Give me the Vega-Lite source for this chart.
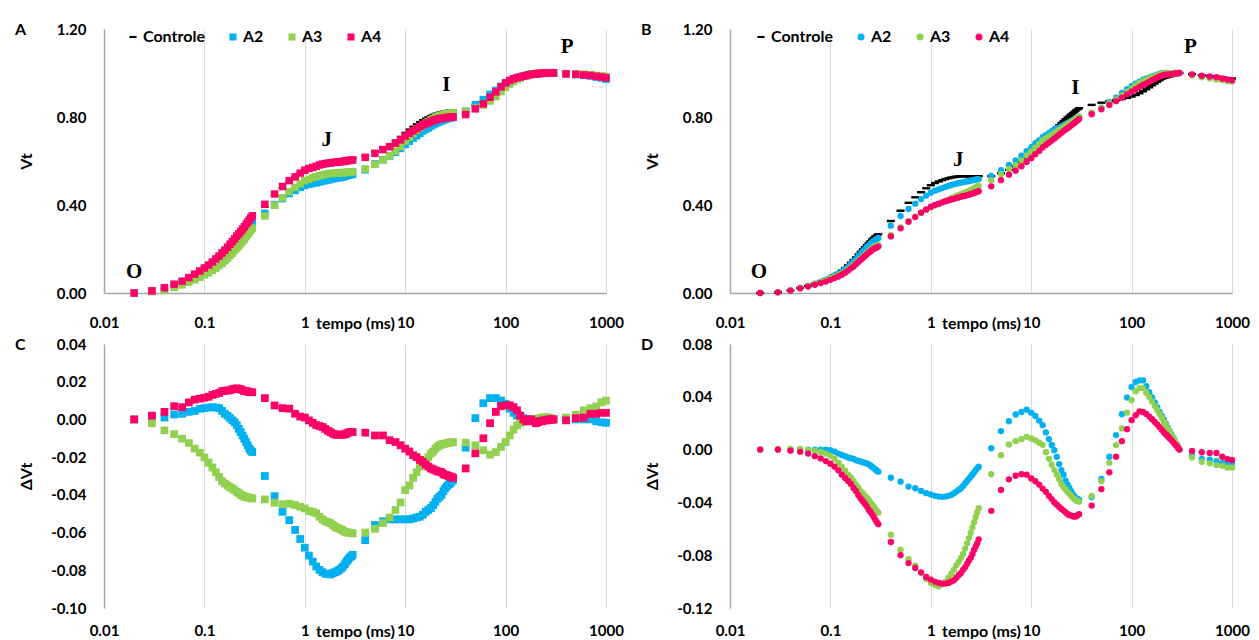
{
"$schema":"https://vega.github.io/schema/vega-lite/v6.json",
"background":"white",
"padding":{"left":15,"top":22,"right":5,"bottom":0},
"config":{
"font":"Lato",
"view":{"stroke":null},
"axis":{"labelFont":"Lato","labelFontSize":15,"labelFontWeight":"bold","labelColor":"#000","labelOverlap":false,"titleFont":"Lato","titleFontSize":16,"titleFontWeight":"bold","titleColor":"#000","ticks":false,"grid":false,"domainColor":"#A6A6A6","domainWidth":1.5,"gridColor":"#D9D9D9","gridWidth":1},
"legend":{"labelFont":"Lato","labelFontSize":16,"labelFontWeight":"bold","labelColor":"#000"},
"title":{"font":"Lato","fontSize":16,"fontWeight":"bold","color":"#000"},
"locale":{"number":{"decimal":".","thousands":",","grouping":[3],"currency":["",""],"minus":"-"}}
},
"datasets":{
"ann":[{"p":"A","t":0.02,"v":0.097,"lab":"O"},{"p":"A","t":1.65,"v":0.695,"lab":"J"},{"p":"A","t":25.7,"v":0.945,"lab":"I"},{"p":"A","t":410,"v":1.117,"lab":"P"},{"p":"B","t":0.0194,"v":0.097,"lab":"O"},{"p":"B","t":1.875,"v":0.604,"lab":"J"},{"p":"B","t":27.5,"v":0.93,"lab":"I"},{"p":"B","t":385,"v":1.117,"lab":"P"}],
"A":[
{"t":0.02,"c":0,"a2":0,"a3":0,"a4":0},
{"t":0.03,"c":0.008,"a2":0.009,"a3":0.006,"a4":0.01},
{"t":0.04,"c":0.02,"a2":0.021,"a3":0.014,"a4":0.024},
{"t":0.05,"c":0.033,"a2":0.036,"a3":0.025,"a4":0.04},
{"t":0.06,"c":0.047,"a2":0.05,"a3":0.037,"a4":0.054},
{"t":0.07,"c":0.061,"a2":0.065,"a3":0.049,"a4":0.07},
{"t":0.08,"c":0.075,"a2":0.08,"a3":0.06,"a4":0.086},
{"t":0.09,"c":0.089,"a2":0.095,"a3":0.071,"a4":0.1},
{"t":0.1,"c":0.102,"a2":0.108,"a3":0.082,"a4":0.114},
{"t":0.11,"c":0.115,"a2":0.121,"a3":0.092,"a4":0.127},
{"t":0.12,"c":0.128,"a2":0.135,"a3":0.103,"a4":0.141},
{"t":0.13,"c":0.141,"a2":0.147,"a3":0.113,"a4":0.155},
{"t":0.14,"c":0.154,"a2":0.16,"a3":0.124,"a4":0.168},
{"t":0.15,"c":0.167,"a2":0.172,"a3":0.134,"a4":0.182},
{"t":0.16,"c":0.18,"a2":0.183,"a3":0.146,"a4":0.195},
{"t":0.17,"c":0.193,"a2":0.195,"a3":0.158,"a4":0.208},
{"t":0.18,"c":0.206,"a2":0.207,"a3":0.17,"a4":0.222},
{"t":0.19,"c":0.218,"a2":0.218,"a3":0.181,"a4":0.234},
{"t":0.2,"c":0.23,"a2":0.229,"a3":0.193,"a4":0.246},
{"t":0.21,"c":0.242,"a2":0.239,"a3":0.204,"a4":0.259},
{"t":0.22,"c":0.253,"a2":0.248,"a3":0.214,"a4":0.269},
{"t":0.23,"c":0.264,"a2":0.257,"a3":0.224,"a4":0.28},
{"t":0.24,"c":0.275,"a2":0.267,"a3":0.235,"a4":0.291},
{"t":0.25,"c":0.286,"a2":0.276,"a3":0.245,"a4":0.301},
{"t":0.26,"c":0.297,"a2":0.285,"a3":0.256,"a4":0.312},
{"t":0.27,"c":0.307,"a2":0.293,"a3":0.266,"a4":0.322},
{"t":0.28,"c":0.317,"a2":0.302,"a3":0.275,"a4":0.332},
{"t":0.29,"c":0.327,"a2":0.311,"a3":0.285,"a4":0.342},
{"t":0.3,"c":0.337,"a2":0.32,"a3":0.295,"a4":0.351},
{"t":0.4,"c":0.392,"a2":0.362,"a3":0.35,"a4":0.403},
{"t":0.5,"c":0.443,"a2":0.402,"a3":0.399,"a4":0.45},
{"t":0.6,"c":0.478,"a2":0.429,"a3":0.433,"a4":0.484},
{"t":0.7,"c":0.505,"a2":0.452,"a3":0.46,"a4":0.511},
{"t":0.8,"c":0.525,"a2":0.466,"a3":0.48,"a4":0.528},
{"t":0.9,"c":0.543,"a2":0.48,"a3":0.497,"a4":0.545},
{"t":1,"c":0.557,"a2":0.489,"a3":0.51,"a4":0.558},
{"t":1.1,"c":0.566,"a2":0.494,"a3":0.517,"a4":0.566},
{"t":1.2,"c":0.573,"a2":0.498,"a3":0.524,"a4":0.571},
{"t":1.3,"c":0.579,"a2":0.501,"a3":0.529,"a4":0.576},
{"t":1.4,"c":0.585,"a2":0.505,"a3":0.533,"a4":0.582},
{"t":1.5,"c":0.59,"a2":0.509,"a3":0.537,"a4":0.586},
{"t":1.6,"c":0.593,"a2":0.511,"a3":0.539,"a4":0.588},
{"t":1.7,"c":0.596,"a2":0.514,"a3":0.542,"a4":0.59},
{"t":1.8,"c":0.598,"a2":0.516,"a3":0.543,"a4":0.591},
{"t":1.9,"c":0.6,"a2":0.519,"a3":0.544,"a4":0.593},
{"t":2,"c":0.602,"a2":0.521,"a3":0.545,"a4":0.594},
{"t":2.1,"c":0.603,"a2":0.523,"a3":0.546,"a4":0.595},
{"t":2.2,"c":0.604,"a2":0.524,"a3":0.546,"a4":0.596},
{"t":2.3,"c":0.605,"a2":0.526,"a3":0.547,"a4":0.597},
{"t":2.4,"c":0.606,"a2":0.528,"a3":0.547,"a4":0.598},
{"t":2.5,"c":0.607,"a2":0.53,"a3":0.548,"a4":0.599},
{"t":2.6,"c":0.608,"a2":0.533,"a3":0.548,"a4":0.601},
{"t":2.7,"c":0.609,"a2":0.535,"a3":0.549,"a4":0.602},
{"t":2.8,"c":0.61,"a2":0.537,"a3":0.55,"a4":0.603},
{"t":2.9,"c":0.611,"a2":0.539,"a3":0.551,"a4":0.604},
{"t":3,"c":0.612,"a2":0.54,"a3":0.552,"a4":0.605},
{"t":4,"c":0.624,"a2":0.56,"a3":0.564,"a4":0.617},
{"t":5,"c":0.643,"a2":0.587,"a3":0.585,"a4":0.635},
{"t":6,"c":0.66,"a2":0.606,"a3":0.605,"a4":0.652},
{"t":7,"c":0.676,"a2":0.623,"a3":0.624,"a4":0.665},
{"t":8,"c":0.693,"a2":0.64,"a3":0.645,"a4":0.681},
{"t":9,"c":0.71,"a2":0.657,"a3":0.666,"a4":0.696},
{"t":10,"c":0.728,"a2":0.675,"a3":0.691,"a4":0.713},
{"t":11,"c":0.743,"a2":0.69,"a3":0.708,"a4":0.726},
{"t":12,"c":0.756,"a2":0.704,"a3":0.725,"a4":0.737},
{"t":13,"c":0.767,"a2":0.715,"a3":0.739,"a4":0.747},
{"t":14,"c":0.777,"a2":0.725,"a3":0.752,"a4":0.756},
{"t":15,"c":0.786,"a2":0.736,"a3":0.763,"a4":0.764},
{"t":16,"c":0.793,"a2":0.744,"a3":0.772,"a4":0.769},
{"t":17,"c":0.799,"a2":0.751,"a3":0.779,"a4":0.774},
{"t":18,"c":0.805,"a2":0.758,"a3":0.787,"a4":0.779},
{"t":19,"c":0.81,"a2":0.765,"a3":0.793,"a4":0.784},
{"t":20,"c":0.814,"a2":0.77,"a3":0.799,"a4":0.787},
{"t":21,"c":0.817,"a2":0.775,"a3":0.803,"a4":0.79},
{"t":22,"c":0.82,"a2":0.779,"a3":0.806,"a4":0.792},
{"t":23,"c":0.822,"a2":0.782,"a3":0.809,"a4":0.794},
{"t":24,"c":0.824,"a2":0.786,"a3":0.811,"a4":0.795},
{"t":25,"c":0.826,"a2":0.789,"a3":0.813,"a4":0.797},
{"t":26,"c":0.827,"a2":0.792,"a3":0.814,"a4":0.797},
{"t":27,"c":0.828,"a2":0.794,"a3":0.816,"a4":0.798},
{"t":28,"c":0.829,"a2":0.795,"a3":0.817,"a4":0.799},
{"t":29,"c":0.83,"a2":0.797,"a3":0.818,"a4":0.8},
{"t":30,"c":0.831,"a2":0.799,"a3":0.819,"a4":0.8},
{"t":40,"c":0.837,"a2":0.822,"a3":0.825,"a4":0.811},
{"t":50,"c":0.855,"a2":0.856,"a3":0.841,"a4":0.837},
{"t":60,"c":0.87,"a2":0.879,"a3":0.854,"a4":0.86},
{"t":70,"c":0.892,"a2":0.903,"a3":0.873,"a4":0.89},
{"t":80,"c":0.91,"a2":0.921,"a3":0.893,"a4":0.914},
{"t":90,"c":0.93,"a2":0.94,"a3":0.915,"a4":0.937},
{"t":100,"c":0.947,"a2":0.955,"a3":0.935,"a4":0.955},
{"t":110,"c":0.958,"a2":0.964,"a3":0.95,"a4":0.966},
{"t":120,"c":0.967,"a2":0.971,"a3":0.962,"a4":0.974},
{"t":130,"c":0.974,"a2":0.976,"a3":0.971,"a4":0.979},
{"t":140,"c":0.98,"a2":0.981,"a3":0.978,"a4":0.982},
{"t":150,"c":0.985,"a2":0.986,"a3":0.984,"a4":0.985},
{"t":160,"c":0.989,"a2":0.989,"a3":0.988,"a4":0.988},
{"t":170,"c":0.992,"a2":0.992,"a3":0.992,"a4":0.992},
{"t":180,"c":0.994,"a2":0.994,"a3":0.994,"a4":0.994},
{"t":190,"c":0.996,"a2":0.996,"a3":0.996,"a4":0.995},
{"t":200,"c":0.997,"a2":0.997,"a3":0.997,"a4":0.995},
{"t":210,"c":0.998,"a2":0.998,"a3":0.999,"a4":0.997},
{"t":220,"c":0.999,"a2":0.999,"a3":1,"a4":0.998},
{"t":230,"c":0.999,"a2":0.999,"a3":1,"a4":0.998},
{"t":240,"c":1,"a2":1,"a3":1,"a4":1},
{"t":250,"c":1,"a2":1,"a3":1,"a4":1},
{"t":260,"c":1,"a2":1,"a3":1,"a4":1},
{"t":270,"c":1,"a2":1,"a3":1,"a4":1},
{"t":280,"c":1,"a2":1,"a3":1,"a4":1},
{"t":290,"c":1,"a2":1,"a3":1,"a4":1},
{"t":300,"c":1,"a2":1,"a3":1,"a4":1},
{"t":400,"c":0.996,"a2":0.996,"a3":0.997,"a4":0.996},
{"t":500,"c":0.993,"a2":0.993,"a3":0.996,"a4":0.994},
{"t":600,"c":0.99,"a2":0.99,"a3":0.995,"a4":0.991},
{"t":700,"c":0.986,"a2":0.986,"a3":0.992,"a4":0.989},
{"t":800,"c":0.982,"a2":0.981,"a3":0.989,"a4":0.985},
{"t":900,"c":0.978,"a2":0.977,"a3":0.987,"a4":0.982},
{"t":1000,"c":0.974,"a2":0.972,"a3":0.984,"a4":0.978}
],
"B":[
{"t":0.02,"c":0,"a2":0,"a3":0,"a4":0},
{"t":0.03,"c":0.003,"a2":0.003,"a3":0.004,"a4":0.003},
{"t":0.04,"c":0.012,"a2":0.012,"a3":0.013,"a4":0.011},
{"t":0.05,"c":0.023,"a2":0.023,"a3":0.024,"a4":0.021},
{"t":0.06,"c":0.032,"a2":0.032,"a3":0.032,"a4":0.029},
{"t":0.07,"c":0.042,"a2":0.042,"a3":0.041,"a4":0.037},
{"t":0.08,"c":0.052,"a2":0.052,"a3":0.05,"a4":0.045},
{"t":0.09,"c":0.061,"a2":0.061,"a3":0.058,"a4":0.052},
{"t":0.1,"c":0.071,"a2":0.071,"a3":0.067,"a4":0.06},
{"t":0.11,"c":0.081,"a2":0.08,"a3":0.074,"a4":0.068},
{"t":0.12,"c":0.091,"a2":0.088,"a3":0.081,"a4":0.075},
{"t":0.13,"c":0.102,"a2":0.098,"a3":0.089,"a4":0.083},
{"t":0.14,"c":0.113,"a2":0.108,"a3":0.097,"a4":0.092},
{"t":0.15,"c":0.126,"a2":0.12,"a3":0.107,"a4":0.102},
{"t":0.16,"c":0.138,"a2":0.132,"a3":0.117,"a4":0.112},
{"t":0.17,"c":0.15,"a2":0.143,"a3":0.126,"a4":0.121},
{"t":0.18,"c":0.162,"a2":0.154,"a3":0.136,"a4":0.131},
{"t":0.19,"c":0.175,"a2":0.167,"a3":0.146,"a4":0.141},
{"t":0.2,"c":0.187,"a2":0.178,"a3":0.156,"a4":0.15},
{"t":0.21,"c":0.198,"a2":0.189,"a3":0.165,"a4":0.159},
{"t":0.22,"c":0.208,"a2":0.198,"a3":0.173,"a4":0.167},
{"t":0.23,"c":0.218,"a2":0.208,"a3":0.182,"a4":0.175},
{"t":0.24,"c":0.227,"a2":0.216,"a3":0.189,"a4":0.182},
{"t":0.25,"c":0.236,"a2":0.224,"a3":0.196,"a4":0.189},
{"t":0.26,"c":0.244,"a2":0.231,"a3":0.203,"a4":0.195},
{"t":0.27,"c":0.251,"a2":0.237,"a3":0.208,"a4":0.2},
{"t":0.28,"c":0.257,"a2":0.242,"a3":0.212,"a4":0.204},
{"t":0.29,"c":0.262,"a2":0.246,"a3":0.216,"a4":0.207},
{"t":0.3,"c":0.267,"a2":0.25,"a3":0.219,"a4":0.211},
{"t":0.4,"c":0.327,"a2":0.306,"a3":0.263,"a4":0.257},
{"t":0.5,"c":0.374,"a2":0.35,"a3":0.298,"a4":0.294},
{"t":0.6,"c":0.41,"a2":0.382,"a3":0.327,"a4":0.324},
{"t":0.7,"c":0.435,"a2":0.406,"a3":0.347,"a4":0.345},
{"t":0.8,"c":0.458,"a2":0.427,"a3":0.365,"a4":0.365},
{"t":0.9,"c":0.476,"a2":0.443,"a3":0.378,"a4":0.38},
{"t":1,"c":0.49,"a2":0.456,"a3":0.389,"a4":0.392},
{"t":1.1,"c":0.5,"a2":0.465,"a3":0.398,"a4":0.4},
{"t":1.2,"c":0.507,"a2":0.471,"a3":0.404,"a4":0.406},
{"t":1.3,"c":0.513,"a2":0.477,"a3":0.411,"a4":0.412},
{"t":1.4,"c":0.518,"a2":0.482,"a3":0.418,"a4":0.417},
{"t":1.5,"c":0.522,"a2":0.487,"a3":0.425,"a4":0.421},
{"t":1.6,"c":0.525,"a2":0.491,"a3":0.431,"a4":0.425},
{"t":1.7,"c":0.527,"a2":0.494,"a3":0.436,"a4":0.428},
{"t":1.8,"c":0.529,"a2":0.497,"a3":0.442,"a4":0.432},
{"t":1.9,"c":0.53,"a2":0.5,"a3":0.445,"a4":0.435},
{"t":2,"c":0.531,"a2":0.502,"a3":0.449,"a4":0.438},
{"t":2.1,"c":0.531,"a2":0.504,"a3":0.452,"a4":0.44},
{"t":2.2,"c":0.531,"a2":0.506,"a3":0.456,"a4":0.442},
{"t":2.3,"c":0.531,"a2":0.507,"a3":0.46,"a4":0.445},
{"t":2.4,"c":0.531,"a2":0.509,"a3":0.464,"a4":0.447},
{"t":2.5,"c":0.531,"a2":0.511,"a3":0.468,"a4":0.449},
{"t":2.6,"c":0.531,"a2":0.512,"a3":0.472,"a4":0.452},
{"t":2.7,"c":0.531,"a2":0.514,"a3":0.476,"a4":0.455},
{"t":2.8,"c":0.531,"a2":0.516,"a3":0.48,"a4":0.458},
{"t":2.9,"c":0.531,"a2":0.517,"a3":0.484,"a4":0.46},
{"t":3,"c":0.531,"a2":0.518,"a3":0.487,"a4":0.463},
{"t":4,"c":0.531,"a2":0.532,"a3":0.512,"a4":0.485},
{"t":5,"c":0.544,"a2":0.558,"a3":0.54,"a4":0.513},
{"t":6,"c":0.56,"a2":0.582,"a3":0.564,"a4":0.538},
{"t":7,"c":0.576,"a2":0.603,"a3":0.582,"a4":0.556},
{"t":8,"c":0.595,"a2":0.624,"a3":0.603,"a4":0.576},
{"t":9,"c":0.615,"a2":0.645,"a3":0.625,"a4":0.596},
{"t":10,"c":0.635,"a2":0.663,"a3":0.644,"a4":0.613},
{"t":11,"c":0.655,"a2":0.681,"a3":0.662,"a4":0.631},
{"t":12,"c":0.672,"a2":0.694,"a3":0.677,"a4":0.646},
{"t":13,"c":0.69,"a2":0.709,"a3":0.694,"a4":0.661},
{"t":14,"c":0.705,"a2":0.718,"a3":0.703,"a4":0.673},
{"t":15,"c":0.718,"a2":0.726,"a3":0.711,"a4":0.683},
{"t":16,"c":0.73,"a2":0.734,"a3":0.719,"a4":0.693},
{"t":17,"c":0.742,"a2":0.742,"a3":0.727,"a4":0.702},
{"t":18,"c":0.753,"a2":0.748,"a3":0.734,"a4":0.711},
{"t":19,"c":0.763,"a2":0.752,"a3":0.741,"a4":0.72},
{"t":20,"c":0.773,"a2":0.758,"a3":0.747,"a4":0.728},
{"t":21,"c":0.782,"a2":0.763,"a3":0.754,"a4":0.736},
{"t":22,"c":0.79,"a2":0.767,"a3":0.76,"a4":0.743},
{"t":23,"c":0.798,"a2":0.772,"a3":0.766,"a4":0.749},
{"t":24,"c":0.805,"a2":0.776,"a3":0.772,"a4":0.755},
{"t":25,"c":0.812,"a2":0.781,"a3":0.777,"a4":0.762},
{"t":26,"c":0.818,"a2":0.784,"a3":0.782,"a4":0.768},
{"t":27,"c":0.824,"a2":0.789,"a3":0.787,"a4":0.773},
{"t":28,"c":0.83,"a2":0.793,"a3":0.792,"a4":0.78},
{"t":29,"c":0.835,"a2":0.798,"a3":0.796,"a4":0.785},
{"t":30,"c":0.84,"a2":0.802,"a3":0.801,"a4":0.791},
{"t":40,"c":0.855,"a2":0.819,"a3":0.82,"a4":0.813},
{"t":50,"c":0.865,"a2":0.843,"a3":0.841,"a4":0.835},
{"t":60,"c":0.872,"a2":0.867,"a3":0.862,"a4":0.855},
{"t":70,"c":0.877,"a2":0.888,"a3":0.88,"a4":0.872},
{"t":80,"c":0.882,"a2":0.909,"a3":0.898,"a4":0.888},
{"t":90,"c":0.887,"a2":0.926,"a3":0.915,"a4":0.903},
{"t":100,"c":0.893,"a2":0.94,"a3":0.93,"a4":0.915},
{"t":110,"c":0.9,"a2":0.951,"a3":0.944,"a4":0.926},
{"t":120,"c":0.908,"a2":0.961,"a3":0.955,"a4":0.937},
{"t":130,"c":0.917,"a2":0.97,"a3":0.964,"a4":0.946},
{"t":140,"c":0.926,"a2":0.974,"a3":0.969,"a4":0.953},
{"t":150,"c":0.935,"a2":0.979,"a3":0.975,"a4":0.96},
{"t":160,"c":0.944,"a2":0.984,"a3":0.981,"a4":0.967},
{"t":170,"c":0.952,"a2":0.988,"a3":0.985,"a4":0.973},
{"t":180,"c":0.96,"a2":0.992,"a3":0.99,"a4":0.979},
{"t":190,"c":0.967,"a2":0.996,"a3":0.994,"a4":0.984},
{"t":200,"c":0.973,"a2":0.999,"a3":0.997,"a4":0.988},
{"t":210,"c":0.978,"a2":1,"a3":0.999,"a4":0.991},
{"t":220,"c":0.98,"a2":1,"a3":0.999,"a4":0.992},
{"t":230,"c":0.983,"a2":1,"a3":0.999,"a4":0.993},
{"t":240,"c":0.985,"a2":0.999,"a3":0.999,"a4":0.994},
{"t":250,"c":0.988,"a2":0.999,"a3":0.999,"a4":0.995},
{"t":260,"c":0.99,"a2":0.999,"a3":0.999,"a4":0.996},
{"t":270,"c":0.993,"a2":1,"a3":1,"a4":0.997},
{"t":280,"c":0.995,"a2":0.999,"a3":0.999,"a4":0.998},
{"t":290,"c":0.998,"a2":1,"a3":1,"a4":0.999},
{"t":300,"c":1,"a2":1,"a3":1,"a4":1},
{"t":400,"c":0.995,"a2":0.991,"a3":0.989,"a4":0.994},
{"t":500,"c":0.99,"a2":0.983,"a3":0.981,"a4":0.988},
{"t":600,"c":0.986,"a2":0.978,"a3":0.976,"a4":0.984},
{"t":700,"c":0.983,"a2":0.974,"a3":0.971,"a4":0.981},
{"t":800,"c":0.98,"a2":0.97,"a3":0.968,"a4":0.975},
{"t":900,"c":0.977,"a2":0.967,"a3":0.963,"a4":0.97},
{"t":1000,"c":0.975,"a2":0.965,"a3":0.961,"a4":0.967}
],
"C":[
{"t":0.02,"a2":0,"a3":0,"a4":0},
{"t":0.03,"a2":0.001,"a3":-0.002,"a4":0.002},
{"t":0.04,"a2":0.001,"a3":-0.0058,"a4":0.004},
{"t":0.05,"a2":0.0026,"a3":-0.0078,"a4":0.007},
{"t":0.06,"a2":0.003,"a3":-0.0102,"a4":0.0065},
{"t":0.07,"a2":0.004,"a3":-0.0125,"a4":0.009},
{"t":0.08,"a2":0.0045,"a3":-0.0155,"a4":0.0105},
{"t":0.09,"a2":0.0056,"a3":-0.0176,"a4":0.011},
{"t":0.1,"a2":0.006,"a3":-0.0202,"a4":0.0115},
{"t":0.11,"a2":0.0063,"a3":-0.0229,"a4":0.012},
{"t":0.12,"a2":0.0065,"a3":-0.0255,"a4":0.013},
{"t":0.13,"a2":0.0063,"a3":-0.028,"a4":0.0135},
{"t":0.14,"a2":0.006,"a3":-0.0305,"a4":0.014},
{"t":0.15,"a2":0.0045,"a3":-0.0328,"a4":0.015},
{"t":0.16,"a2":0.003,"a3":-0.034,"a4":0.0152},
{"t":0.17,"a2":0.002,"a3":-0.035,"a4":0.0153},
{"t":0.18,"a2":0.0008,"a3":-0.036,"a4":0.0155},
{"t":0.19,"a2":-0.0005,"a3":-0.0366,"a4":0.016},
{"t":0.2,"a2":-0.0015,"a3":-0.0375,"a4":0.0162},
{"t":0.21,"a2":-0.003,"a3":-0.0384,"a4":0.0165},
{"t":0.22,"a2":-0.005,"a3":-0.039,"a4":0.0162},
{"t":0.23,"a2":-0.0067,"a3":-0.04,"a4":0.016},
{"t":0.24,"a2":-0.0085,"a3":-0.0405,"a4":0.0155},
{"t":0.25,"a2":-0.0102,"a3":-0.041,"a4":0.015},
{"t":0.26,"a2":-0.012,"a3":-0.041,"a4":0.015},
{"t":0.27,"a2":-0.0137,"a3":-0.0413,"a4":0.0148},
{"t":0.28,"a2":-0.0155,"a3":-0.0416,"a4":0.0146},
{"t":0.29,"a2":-0.0165,"a3":-0.0418,"a4":0.0145},
{"t":0.3,"a2":-0.0173,"a3":-0.0419,"a4":0.0144},
{"t":0.4,"a2":-0.03,"a3":-0.0424,"a4":0.0113},
{"t":0.5,"a2":-0.0407,"a3":-0.0442,"a4":0.0074},
{"t":0.6,"a2":-0.049,"a3":-0.045,"a4":0.006},
{"t":0.7,"a2":-0.0534,"a3":-0.0447,"a4":0.0057},
{"t":0.8,"a2":-0.0586,"a3":-0.0454,"a4":0.003},
{"t":0.9,"a2":-0.0634,"a3":-0.0463,"a4":0.0015},
{"t":1,"a2":-0.068,"a3":-0.0472,"a4":0.001},
{"t":1.1,"a2":-0.0722,"a3":-0.0486,"a4":-0.0005},
{"t":1.2,"a2":-0.0754,"a3":-0.049,"a4":-0.0018},
{"t":1.3,"a2":-0.078,"a3":-0.0498,"a4":-0.003},
{"t":1.4,"a2":-0.0798,"a3":-0.0516,"a4":-0.0035},
{"t":1.5,"a2":-0.081,"a3":-0.053,"a4":-0.004},
{"t":1.6,"a2":-0.0818,"a3":-0.054,"a4":-0.005},
{"t":1.7,"a2":-0.082,"a3":-0.0545,"a4":-0.006},
{"t":1.8,"a2":-0.0822,"a3":-0.055,"a4":-0.0067},
{"t":1.9,"a2":-0.0815,"a3":-0.056,"a4":-0.0075},
{"t":2,"a2":-0.081,"a3":-0.0569,"a4":-0.008},
{"t":2.1,"a2":-0.0805,"a3":-0.0575,"a4":-0.0082},
{"t":2.2,"a2":-0.0798,"a3":-0.058,"a4":-0.008},
{"t":2.3,"a2":-0.079,"a3":-0.0583,"a4":-0.0083},
{"t":2.4,"a2":-0.078,"a3":-0.059,"a4":-0.008},
{"t":2.5,"a2":-0.0768,"a3":-0.0595,"a4":-0.008},
{"t":2.6,"a2":-0.0754,"a3":-0.0599,"a4":-0.0075},
{"t":2.7,"a2":-0.0743,"a3":-0.06,"a4":-0.007},
{"t":2.8,"a2":-0.0733,"a3":-0.0602,"a4":-0.0068},
{"t":2.9,"a2":-0.0725,"a3":-0.0603,"a4":-0.0067},
{"t":3,"a2":-0.0718,"a3":-0.0604,"a4":-0.0067},
{"t":4,"a2":-0.064,"a3":-0.06,"a4":-0.007},
{"t":5,"a2":-0.056,"a3":-0.058,"a4":-0.0085},
{"t":6,"a2":-0.054,"a3":-0.055,"a4":-0.0085},
{"t":7,"a2":-0.053,"a3":-0.052,"a4":-0.011},
{"t":8,"a2":-0.053,"a3":-0.048,"a4":-0.012},
{"t":9,"a2":-0.053,"a3":-0.044,"a4":-0.0137},
{"t":10,"a2":-0.053,"a3":-0.0375,"a4":-0.0155},
{"t":11,"a2":-0.053,"a3":-0.035,"a4":-0.017},
{"t":12,"a2":-0.0525,"a3":-0.031,"a4":-0.019},
{"t":13,"a2":-0.052,"a3":-0.028,"a4":-0.02},
{"t":14,"a2":-0.0516,"a3":-0.025,"a4":-0.0215},
{"t":15,"a2":-0.0505,"a3":-0.023,"a4":-0.0225},
{"t":16,"a2":-0.049,"a3":-0.0215,"a4":-0.024},
{"t":17,"a2":-0.048,"a3":-0.02,"a4":-0.025},
{"t":18,"a2":-0.047,"a3":-0.018,"a4":-0.026},
{"t":19,"a2":-0.0455,"a3":-0.017,"a4":-0.0265},
{"t":20,"a2":-0.0437,"a3":-0.0155,"a4":-0.027},
{"t":21,"a2":-0.042,"a3":-0.0145,"a4":-0.0275},
{"t":22,"a2":-0.041,"a3":-0.0137,"a4":-0.0278},
{"t":23,"a2":-0.04,"a3":-0.0133,"a4":-0.028},
{"t":24,"a2":-0.038,"a3":-0.013,"a4":-0.029},
{"t":25,"a2":-0.0366,"a3":-0.0128,"a4":-0.0295},
{"t":26,"a2":-0.0355,"a3":-0.0126,"a4":-0.0296},
{"t":27,"a2":-0.0345,"a3":-0.0125,"a4":-0.03},
{"t":28,"a2":-0.034,"a3":-0.0123,"a4":-0.0303},
{"t":29,"a2":-0.033,"a3":-0.0122,"a4":-0.0305},
{"t":30,"a2":-0.032,"a3":-0.012,"a4":-0.031},
{"t":40,"a2":-0.015,"a3":-0.0123,"a4":-0.026},
{"t":50,"a2":0.0007,"a3":-0.0137,"a4":-0.018},
{"t":60,"a2":0.0086,"a3":-0.0164,"a4":-0.01},
{"t":70,"a2":0.0113,"a3":-0.0187,"a4":-0.002},
{"t":80,"a2":0.0113,"a3":-0.0173,"a4":0.004},
{"t":90,"a2":0.01,"a3":-0.0146,"a4":0.007},
{"t":100,"a2":0.0083,"a3":-0.012,"a4":0.0075},
{"t":110,"a2":0.0057,"a3":-0.0085,"a4":0.0075},
{"t":120,"a2":0.0035,"a3":-0.0054,"a4":0.0065},
{"t":130,"a2":0.002,"a3":-0.0032,"a4":0.0048},
{"t":140,"a2":0.0013,"a3":-0.0018,"a4":0.002},
{"t":150,"a2":0.0007,"a3":-0.0012,"a4":0},
{"t":160,"a2":0.0003,"a3":-0.001,"a4":-0.001},
{"t":170,"a2":0,"a3":-0.0005,"a4":0},
{"t":180,"a2":0,"a3":-0.0003,"a4":0},
{"t":190,"a2":-0.0003,"a3":0,"a4":-0.001},
{"t":200,"a2":-0.0005,"a3":0,"a4":-0.002},
{"t":210,"a2":-0.0005,"a3":0.0005,"a4":-0.0015},
{"t":220,"a2":-0.0005,"a3":0.0005,"a4":-0.001},
{"t":230,"a2":-0.0003,"a3":0.001,"a4":-0.001},
{"t":240,"a2":0,"a3":0.001,"a4":-0.0005},
{"t":250,"a2":0,"a3":0.001,"a4":-0.0005},
{"t":260,"a2":0,"a3":0.001,"a4":-0.0005},
{"t":270,"a2":0,"a3":0.001,"a4":0},
{"t":280,"a2":0,"a3":0.0005,"a4":0},
{"t":290,"a2":0,"a3":0.0005,"a4":0},
{"t":300,"a2":0,"a3":0,"a4":0},
{"t":400,"a2":0,"a3":0.001,"a4":-0.0005},
{"t":500,"a2":0,"a3":0.0025,"a4":0.0007},
{"t":600,"a2":0,"a3":0.0048,"a4":0.001},
{"t":700,"a2":0,"a3":0.006,"a4":0.003},
{"t":800,"a2":-0.001,"a3":0.0069,"a4":0.003},
{"t":900,"a2":-0.0015,"a3":0.0091,"a4":0.0035},
{"t":1000,"a2":-0.0018,"a3":0.01,"a4":0.0035}
],
"D":[
{"t":0.02,"a2":0,"a3":0,"a4":0},
{"t":0.03,"a2":0,"a3":0.0005,"a4":0},
{"t":0.04,"a2":0,"a3":0.0005,"a4":-0.0008},
{"t":0.05,"a2":0,"a3":0.0005,"a4":-0.0017},
{"t":0.06,"a2":0,"a3":0,"a4":-0.003},
{"t":0.07,"a2":0,"a3":-0.0008,"a4":-0.005},
{"t":0.08,"a2":0,"a3":-0.0018,"a4":-0.0067},
{"t":0.09,"a2":0,"a3":-0.003,"a4":-0.0087},
{"t":0.1,"a2":-0.0005,"a3":-0.0045,"a4":-0.0107},
{"t":0.11,"a2":-0.0015,"a3":-0.007,"a4":-0.013},
{"t":0.12,"a2":-0.003,"a3":-0.01,"a4":-0.0157},
{"t":0.13,"a2":-0.004,"a3":-0.013,"a4":-0.019},
{"t":0.14,"a2":-0.005,"a3":-0.016,"a4":-0.0215},
{"t":0.15,"a2":-0.006,"a3":-0.0189,"a4":-0.0238},
{"t":0.16,"a2":-0.0065,"a3":-0.021,"a4":-0.026},
{"t":0.17,"a2":-0.007,"a3":-0.024,"a4":-0.029},
{"t":0.18,"a2":-0.008,"a3":-0.0265,"a4":-0.0315},
{"t":0.19,"a2":-0.0085,"a3":-0.029,"a4":-0.0345},
{"t":0.2,"a2":-0.009,"a3":-0.0315,"a4":-0.037},
{"t":0.21,"a2":-0.0095,"a3":-0.033,"a4":-0.039},
{"t":0.22,"a2":-0.01,"a3":-0.035,"a4":-0.041},
{"t":0.23,"a2":-0.0105,"a3":-0.0365,"a4":-0.043},
{"t":0.24,"a2":-0.011,"a3":-0.038,"a4":-0.0455},
{"t":0.25,"a2":-0.012,"a3":-0.04,"a4":-0.047},
{"t":0.26,"a2":-0.013,"a3":-0.0415,"a4":-0.049},
{"t":0.27,"a2":-0.014,"a3":-0.043,"a4":-0.051},
{"t":0.28,"a2":-0.015,"a3":-0.045,"a4":-0.053},
{"t":0.29,"a2":-0.016,"a3":-0.0465,"a4":-0.055},
{"t":0.3,"a2":-0.0167,"a3":-0.0478,"a4":-0.0565},
{"t":0.4,"a2":-0.0213,"a3":-0.0645,"a4":-0.07},
{"t":0.5,"a2":-0.0243,"a3":-0.0758,"a4":-0.08},
{"t":0.6,"a2":-0.028,"a3":-0.083,"a4":-0.086},
{"t":0.7,"a2":-0.0293,"a3":-0.088,"a4":-0.0897},
{"t":0.8,"a2":-0.0313,"a3":-0.0935,"a4":-0.093},
{"t":0.9,"a2":-0.033,"a3":-0.098,"a4":-0.0965},
{"t":1,"a2":-0.034,"a3":-0.101,"a4":-0.0985},
{"t":1.1,"a2":-0.035,"a3":-0.1025,"a4":-0.1},
{"t":1.2,"a2":-0.0356,"a3":-0.1035,"a4":-0.101},
{"t":1.3,"a2":-0.0358,"a3":-0.102,"a4":-0.1015},
{"t":1.4,"a2":-0.0356,"a3":-0.1,"a4":-0.1015},
{"t":1.5,"a2":-0.035,"a3":-0.097,"a4":-0.101},
{"t":1.6,"a2":-0.0343,"a3":-0.094,"a4":-0.1},
{"t":1.7,"a2":-0.033,"a3":-0.091,"a4":-0.099},
{"t":1.8,"a2":-0.0318,"a3":-0.0875,"a4":-0.097},
{"t":1.9,"a2":-0.0305,"a3":-0.085,"a4":-0.095},
{"t":2,"a2":-0.0293,"a3":-0.082,"a4":-0.0935},
{"t":2.1,"a2":-0.0275,"a3":-0.079,"a4":-0.091},
{"t":2.2,"a2":-0.0255,"a3":-0.075,"a4":-0.089},
{"t":2.3,"a2":-0.0238,"a3":-0.071,"a4":-0.0865},
{"t":2.4,"a2":-0.022,"a3":-0.067,"a4":-0.084},
{"t":2.5,"a2":-0.0205,"a3":-0.063,"a4":-0.082},
{"t":2.6,"a2":-0.0188,"a3":-0.059,"a4":-0.079},
{"t":2.7,"a2":-0.0172,"a3":-0.055,"a4":-0.076},
{"t":2.8,"a2":-0.0155,"a3":-0.051,"a4":-0.0735},
{"t":2.9,"a2":-0.0142,"a3":-0.0475,"a4":-0.071},
{"t":3,"a2":-0.013,"a3":-0.0444,"a4":-0.068},
{"t":4,"a2":0.001,"a3":-0.0187,"a4":-0.0464},
{"t":5,"a2":0.014,"a3":-0.0042,"a4":-0.0306},
{"t":6,"a2":0.0215,"a3":0.0039,"a4":-0.0225},
{"t":7,"a2":0.0266,"a3":0.0064,"a4":-0.0198},
{"t":8,"a2":0.0285,"a3":0.0079,"a4":-0.0187},
{"t":9,"a2":0.0303,"a3":0.0097,"a4":-0.019},
{"t":10,"a2":0.028,"a3":0.0085,"a4":-0.0218},
{"t":11,"a2":0.0255,"a3":0.007,"a4":-0.024},
{"t":12,"a2":0.022,"a3":0.0052,"a4":-0.0265},
{"t":13,"a2":0.0185,"a3":0.0036,"a4":-0.0295},
{"t":14,"a2":0.013,"a3":-0.002,"a4":-0.032},
{"t":15,"a2":0.008,"a3":-0.007,"a4":-0.035},
{"t":16,"a2":0.0035,"a3":-0.0115,"a4":-0.0375},
{"t":17,"a2":-0.0005,"a3":-0.0155,"a4":-0.04},
{"t":18,"a2":-0.0055,"a3":-0.019,"a4":-0.0418},
{"t":19,"a2":-0.011,"a3":-0.0225,"a4":-0.0435},
{"t":20,"a2":-0.0155,"a3":-0.026,"a4":-0.045},
{"t":21,"a2":-0.019,"a3":-0.0285,"a4":-0.0462},
{"t":22,"a2":-0.0235,"a3":-0.03,"a4":-0.0475},
{"t":23,"a2":-0.0265,"a3":-0.032,"a4":-0.0488},
{"t":24,"a2":-0.029,"a3":-0.0335,"a4":-0.0497},
{"t":25,"a2":-0.0315,"a3":-0.035,"a4":-0.05},
{"t":26,"a2":-0.034,"a3":-0.0365,"a4":-0.0505},
{"t":27,"a2":-0.0355,"a3":-0.0375,"a4":-0.0507},
{"t":28,"a2":-0.037,"a3":-0.0385,"a4":-0.0505},
{"t":29,"a2":-0.0375,"a3":-0.039,"a4":-0.0497},
{"t":30,"a2":-0.038,"a3":-0.0394,"a4":-0.049},
{"t":40,"a2":-0.036,"a3":-0.035,"a4":-0.0424},
{"t":50,"a2":-0.0223,"a3":-0.024,"a4":-0.03},
{"t":60,"a2":-0.0054,"a3":-0.01,"a4":-0.0172},
{"t":70,"a2":0.011,"a3":0.0034,"a4":-0.0054},
{"t":80,"a2":0.0268,"a3":0.016,"a4":0.0064},
{"t":90,"a2":0.0394,"a3":0.028,"a4":0.0155},
{"t":100,"a2":0.0474,"a3":0.0374,"a4":0.0223},
{"t":110,"a2":0.0512,"a3":0.0442,"a4":0.026},
{"t":120,"a2":0.0525,"a3":0.0466,"a4":0.029},
{"t":130,"a2":0.0525,"a3":0.0466,"a4":0.0285},
{"t":140,"a2":0.048,"a3":0.043,"a4":0.027},
{"t":150,"a2":0.0435,"a3":0.04,"a4":0.025},
{"t":160,"a2":0.0395,"a3":0.0365,"a4":0.023},
{"t":170,"a2":0.0357,"a3":0.033,"a4":0.021},
{"t":180,"a2":0.032,"a3":0.03,"a4":0.019},
{"t":190,"a2":0.0286,"a3":0.027,"a4":0.017},
{"t":200,"a2":0.0255,"a3":0.024,"a4":0.015},
{"t":210,"a2":0.0224,"a3":0.021,"a4":0.013},
{"t":220,"a2":0.0195,"a3":0.0185,"a4":0.0115},
{"t":230,"a2":0.0166,"a3":0.016,"a4":0.01},
{"t":240,"a2":0.014,"a3":0.0135,"a4":0.0085},
{"t":250,"a2":0.0114,"a3":0.011,"a4":0.007},
{"t":260,"a2":0.009,"a3":0.0087,"a4":0.0055},
{"t":270,"a2":0.0067,"a3":0.0065,"a4":0.004},
{"t":280,"a2":0.0044,"a3":0.0043,"a4":0.0027},
{"t":290,"a2":0.0022,"a3":0.002,"a4":0.0013},
{"t":300,"a2":0,"a3":0,"a4":0},
{"t":400,"a2":-0.0045,"a3":-0.006,"a4":-0.001},
{"t":500,"a2":-0.007,"a3":-0.0092,"a4":-0.002},
{"t":600,"a2":-0.0076,"a3":-0.0104,"a4":-0.0025},
{"t":700,"a2":-0.0087,"a3":-0.0117,"a4":-0.0025},
{"t":800,"a2":-0.01,"a3":-0.0123,"a4":-0.0054},
{"t":900,"a2":-0.0104,"a3":-0.0137,"a4":-0.0072},
{"t":1000,"a2":-0.0104,"a3":-0.0137,"a4":-0.0079}
]
},
"columns":2,
"spacing":{"row":6,"column":17},
"resolve":{"scale":{"color":"independent","shape":"independent"},"legend":{"color":"independent","shape":"independent"}},
"concat":[
{
"width":502,"height":264,
"title":{"text":"A","anchor":"start","frame":"group","dx":-89,"offset":-16},
"data":{"name":"A"},
"encoding":{"x":{"field":"t","type":"quantitative","scale":{"type":"log","domain":[0.01,1000]},"axis":{"values":[0.01,0.1,1,10,100,1000],"tickCount":20,"format":"~g","labelFlush":false,"labelOverlap":false,"grid":true,"labelPadding":22,"title":"tempo (ms)","titleY":22,"titleBaseline":"top"}}},
"layer":[
{"mark":{"type":"point","filled":true,"opacity":1,"size":56},"encoding":{"y":{"field":"c","type":"quantitative","title":"Vt","scale":{"domain":[0,1.2]},"axis":{"values":[0,0.4,0.8,1.2],"tickCount":20,"format":".2f","labelOverlap":false,"labelPadding":18,"minExtent":40,"maxExtent":40,"titlePadding":30}},"color":{"datum":"Controle","type":"nominal","scale":{"domain":["Controle","A2","A3","A4"],"range":["#000000","#00B0F0","#92D050","#FF0066"]},"legend":{"orient":"none","legendX":21,"legendY":0,"direction":"horizontal","title":null,"symbolSize":50,"labelOffset":2,"columnPadding":20,"padding":0}},"shape":{"datum":"Controle","type":"nominal","scale":{"domain":["Controle","A2","A3","A4"],"range":["M-1,-0.3H1V0.3H-1Z","square","square","square"]}}}},
{"mark":{"type":"point","filled":true,"opacity":1,"size":56},"encoding":{"y":{"field":"a2","type":"quantitative","title":"Vt"},"color":{"datum":"A2","type":"nominal"},"shape":{"datum":"A2","type":"nominal"}}},
{"mark":{"type":"point","filled":true,"opacity":1,"size":56},"encoding":{"y":{"field":"a3","type":"quantitative","title":"Vt"},"color":{"datum":"A3","type":"nominal"},"shape":{"datum":"A3","type":"nominal"}}},
{"mark":{"type":"point","filled":true,"opacity":1,"size":56},"encoding":{"y":{"field":"a4","type":"quantitative","title":"Vt"},"color":{"datum":"A4","type":"nominal"},"shape":{"datum":"A4","type":"nominal"}}},
{"data":{"name":"ann"},"transform":[{"filter":"datum.p == 'A'"}],"mark":{"type":"text","font":"Liberation Serif","fontWeight":"bold","fontSize":21,"color":"#000","baseline":"middle"},"encoding":{"y":{"field":"v","type":"quantitative"},"text":{"field":"lab"}}}
]
},
{
"width":502,"height":264,
"title":{"text":"B","anchor":"start","frame":"group","dx":-89,"offset":-16},
"data":{"name":"B"},
"encoding":{"x":{"field":"t","type":"quantitative","scale":{"type":"log","domain":[0.01,1000]},"axis":{"values":[0.01,0.1,1,10,100,1000],"tickCount":20,"format":"~g","labelFlush":false,"labelOverlap":false,"grid":true,"labelPadding":22,"title":"tempo (ms)","titleY":22,"titleBaseline":"top"}}},
"layer":[
{"mark":{"type":"point","filled":true,"opacity":1,"size":64},"encoding":{"y":{"field":"c","type":"quantitative","title":"Vt","scale":{"domain":[0,1.2]},"axis":{"values":[0,0.4,0.8,1.2],"tickCount":20,"format":".2f","labelOverlap":false,"labelPadding":18,"minExtent":40,"maxExtent":40,"titlePadding":30}},"color":{"datum":"Controle","type":"nominal","scale":{"domain":["Controle","A2","A3","A4"],"range":["#000000","#00B0F0","#92D050","#FF0066"]},"legend":{"orient":"none","legendX":23,"legendY":0,"direction":"horizontal","title":null,"symbolSize":50,"labelOffset":2,"columnPadding":20,"padding":0}},"shape":{"datum":"Controle","type":"nominal","scale":{"domain":["Controle","A2","A3","A4"],"range":["M-1,-0.3H1V0.3H-1Z","circle","circle","circle"]}}}},
{"mark":{"type":"point","filled":true,"opacity":1,"size":40},"encoding":{"y":{"field":"a2","type":"quantitative","title":"Vt"},"color":{"datum":"A2","type":"nominal"},"shape":{"datum":"A2","type":"nominal"}}},
{"mark":{"type":"point","filled":true,"opacity":1,"size":40},"encoding":{"y":{"field":"a3","type":"quantitative","title":"Vt"},"color":{"datum":"A3","type":"nominal"},"shape":{"datum":"A3","type":"nominal"}}},
{"mark":{"type":"point","filled":true,"opacity":1,"size":40},"encoding":{"y":{"field":"a4","type":"quantitative","title":"Vt"},"color":{"datum":"A4","type":"nominal"},"shape":{"datum":"A4","type":"nominal"}}},
{"data":{"name":"ann"},"transform":[{"filter":"datum.p == 'B'"}],"mark":{"type":"text","font":"Liberation Serif","fontWeight":"bold","fontSize":21,"color":"#000","baseline":"middle"},"encoding":{"y":{"field":"v","type":"quantitative"},"text":{"field":"lab"}}}
]
},
{
"width":502,"height":264,
"title":{"text":"C","anchor":"start","frame":"group","dx":-89,"offset":-16},
"data":{"name":"C"},
"encoding":{"x":{"field":"t","type":"quantitative","scale":{"type":"log","domain":[0.01,1000]},"axis":{"values":[0.01,0.1,1,10,100,1000],"tickCount":20,"format":"~g","labelFlush":false,"labelOverlap":false,"grid":true,"domain":false,"labelPadding":15,"title":"tempo (ms)","titleY":15,"titleBaseline":"top"}}},
"layer":[
{"data":{"values":[{"z":0}]},"mark":{"type":"rule","color":"#000000","strokeWidth":2.5},"encoding":{"y":{"field":"z","type":"quantitative","title":"ΔVt","scale":{"domain":[-0.1,0.04]},"axis":{"values":[-0.1,-0.08,-0.06,-0.04,-0.02,0,0.02,0.04],"tickCount":20,"format":".2f","labelOverlap":false,"labelPadding":18,"minExtent":40,"maxExtent":40,"titlePadding":30}}}},
{"mark":{"type":"point","filled":true,"opacity":1,"size":60},"encoding":{"y":{"field":"a2","type":"quantitative","title":"ΔVt"},"color":{"datum":"A2","type":"nominal","scale":{"domain":["A2","A3","A4"],"range":["#00B0F0","#92D050","#FF0066"]},"legend":null},"shape":{"value":"square"}}},
{"mark":{"type":"point","filled":true,"opacity":1,"size":60},"encoding":{"y":{"field":"a3","type":"quantitative","title":"ΔVt"},"color":{"datum":"A3","type":"nominal"},"shape":{"value":"square"}}},
{"mark":{"type":"point","filled":true,"opacity":1,"size":60},"encoding":{"y":{"field":"a4","type":"quantitative","title":"ΔVt"},"color":{"datum":"A4","type":"nominal"},"shape":{"value":"square"}}}
]
},
{
"width":502,"height":264,
"title":{"text":"D","anchor":"start","frame":"group","dx":-89,"offset":-16},
"data":{"name":"D"},
"encoding":{"x":{"field":"t","type":"quantitative","scale":{"type":"log","domain":[0.01,1000]},"axis":{"values":[0.01,0.1,1,10,100,1000],"tickCount":20,"format":"~g","labelFlush":false,"labelOverlap":false,"grid":true,"domain":false,"labelPadding":15,"title":"tempo (ms)","titleY":15,"titleBaseline":"top"}}},
"layer":[
{"data":{"values":[{"z":0}]},"mark":{"type":"rule","color":"#000000","strokeWidth":2.5},"encoding":{"y":{"field":"z","type":"quantitative","title":"ΔVt","scale":{"domain":[-0.12,0.08]},"axis":{"values":[-0.12,-0.08,-0.04,0,0.04,0.08],"tickCount":20,"format":".2f","labelOverlap":false,"labelPadding":18,"minExtent":40,"maxExtent":40,"titlePadding":30}}}},
{"mark":{"type":"point","filled":true,"opacity":1,"size":40},"encoding":{"y":{"field":"a2","type":"quantitative","title":"ΔVt"},"color":{"datum":"A2","type":"nominal","scale":{"domain":["A2","A3","A4"],"range":["#00B0F0","#92D050","#FF0066"]},"legend":null},"shape":{"value":"circle"}}},
{"mark":{"type":"point","filled":true,"opacity":1,"size":40},"encoding":{"y":{"field":"a3","type":"quantitative","title":"ΔVt"},"color":{"datum":"A3","type":"nominal"},"shape":{"value":"circle"}}},
{"mark":{"type":"point","filled":true,"opacity":1,"size":40},"encoding":{"y":{"field":"a4","type":"quantitative","title":"ΔVt"},"color":{"datum":"A4","type":"nominal"},"shape":{"value":"circle"}}}
]
}
]
}
